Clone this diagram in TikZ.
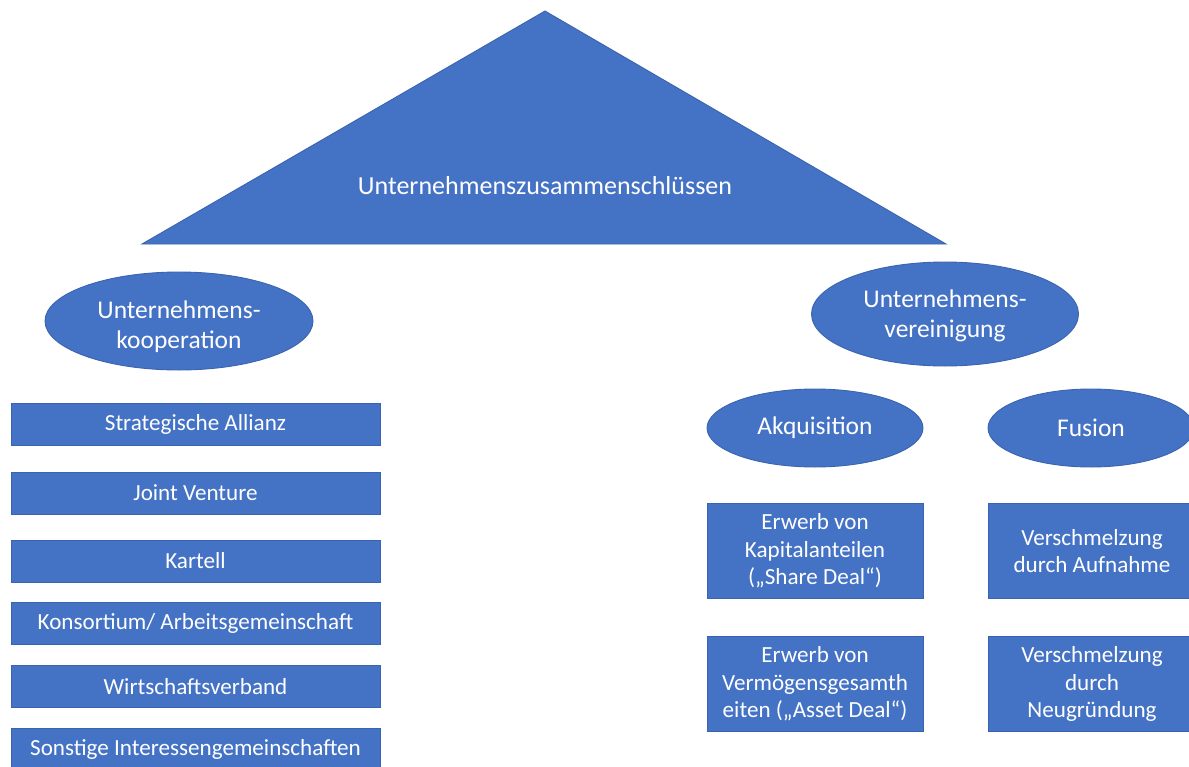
\documentclass[tikz,border=0pt]{standalone}
\usepackage{fontspec}
\setmainfont{Carlito}
\usetikzlibrary{shapes.geometric}
\definecolor{fillblue}{HTML}{4472C4}
\definecolor{edgeblue}{HTML}{3B64B0}
\tikzset{
  shapebase/.style={fill=fillblue, draw=edgeblue, line width=0.9pt},
  txt/.style={text=white, align=center, inner sep=0pt},
  oval/.style={shapebase, txt, ellipse, inner sep=0pt, font=\fontsize{25.5}{30}\selectfont},
  ovaltxt/.style={txt, font=\fontsize{25.5}{30}\selectfont},
  box/.style={shapebase, txt, rectangle, font=\fontsize{23.1}{27.5}\selectfont},
  leftbox/.style={box, minimum width=369pt, minimum height=42pt},
  rightbox/.style={box, minimum height=95pt}
}
\begin{document}
\begin{tikzpicture}[x=1pt, y=-1pt]
\useasboundingbox (0,0) rectangle (1189,766);
% roof
\draw[shapebase] (545,11) -- (946,244) -- (142,244) -- cycle;
\node[txt, font=\fontsize{26}{30}\selectfont] (top) at (545,186) {Unternehmenszusammenschlüssen};
% ellipses
\node[oval, minimum width=268pt, minimum height=98pt] (koop) at (179,321) {};
\node[ovaltxt] (kooptxt) at (179,327) {Unternehmens-\\kooperation};
\node[oval, minimum width=267pt, minimum height=104pt] (ver) at (945,314) {};
\node[ovaltxt] (vertxt) at (945,316) {Unternehmens-\\vereinigung};
\node[oval, minimum width=216pt, minimum height=78pt] (akq) at (815,428) {Akquisition};
\node[oval, minimum width=206pt, minimum height=78pt] (fus) at (1091,428) {Fusion};
% left boxes
\node[leftbox] (b1) at (195.5,424.5) {Strategische Allianz};
\node[leftbox] (b2) at (195.5,493) {Joint Venture};
\node[leftbox] (b3) at (195.5,561) {Kartell};
\node[leftbox] (b4) at (195.5,623.5) {Konsortium/ Arbeitsgemeinschaft};
\node[leftbox] (b5) at (195.5,686.5) {Wirtschaftsverband};
\node[leftbox] (b6) at (195.5,749) {Sonstige Interessengemeinschaften};
% right boxes
\node[rightbox, minimum width=216pt] (a1) at (815,551) {Erwerb von\\Kapitalanteilen\\(„Share Deal“)};
\node[rightbox, minimum width=216pt] (a2) at (815,684) {Erwerb von\\Vermögensgesamth\\eiten („Asset Deal“)};
\node[rightbox, minimum width=208pt] (f1) at (1092,551) {Verschmelzung\\durch Aufnahme};
\node[rightbox, minimum width=208pt] (f2) at (1092,684) {Verschmelzung\\durch\\Neugründung};
\end{tikzpicture}
\end{document}
